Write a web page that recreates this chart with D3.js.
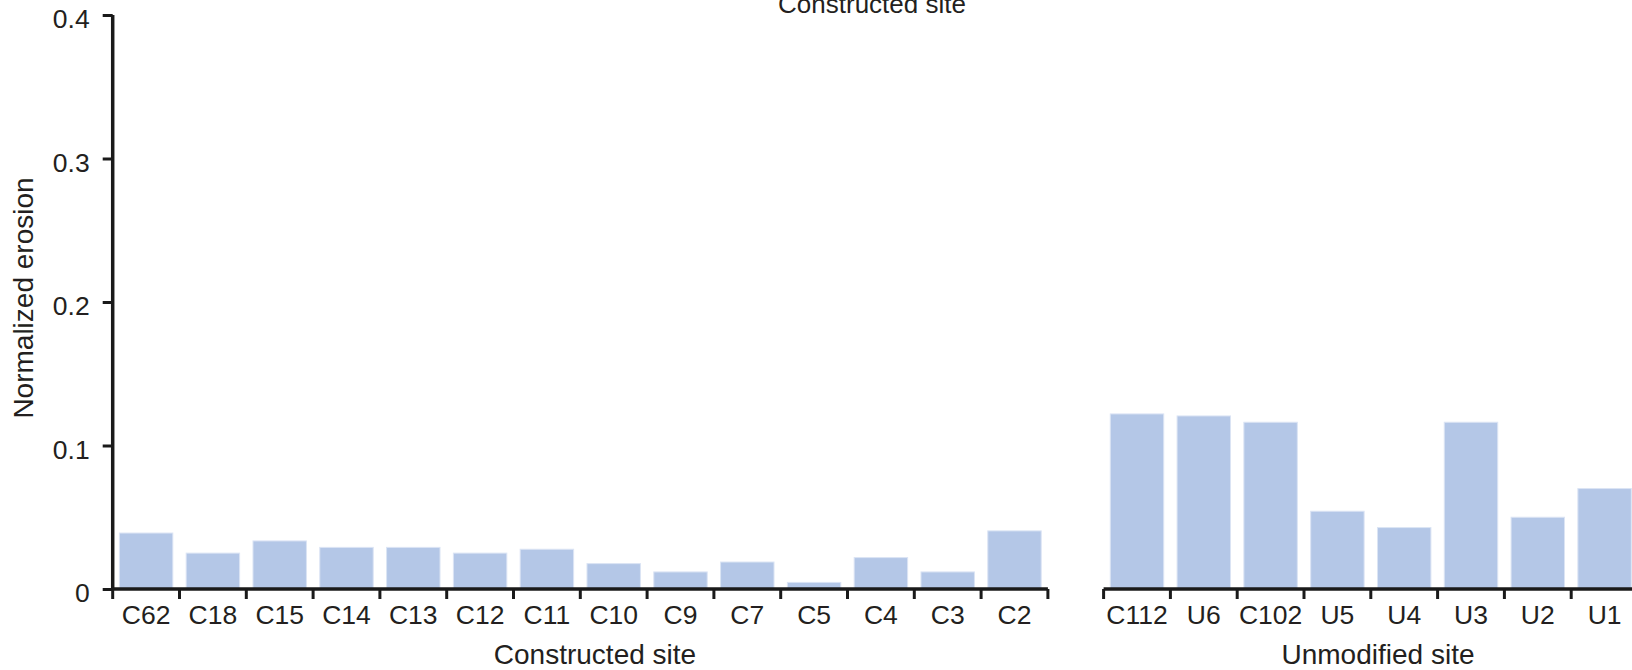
<!DOCTYPE html>
<html>
<head>
<meta charset="utf-8">
<script src="https://cdn.jsdelivr.net/npm/d3@7"></script>
<style>
  html, body { margin: 0; padding: 0; background: #fff; }
  svg { display: block; font-family: "Liberation Sans", Arial, Helvetica, sans-serif; }
</style>
</head>
<body>
<svg id="chart" width="1632" height="670"></svg>
<script>
// Normalized erosion per site, two groups sharing one y scale
const constructedSites = ["C62", "C18", "C15", "C14", "C13", "C12", "C11", "C10", "C9", "C7", "C5", "C4", "C3", "C2"];
const constructedErosion = [0.039, 0.025, 0.0335, 0.029, 0.029, 0.025, 0.0277, 0.0177, 0.0119, 0.0188, 0.0046, 0.0219, 0.0119, 0.0405];

const unmodifiedSites = ["C112", "U6", "C102", "U5", "U4", "U3", "U2", "U1"];
const unmodifiedErosion = [0.122, 0.1206, 0.1162, 0.0542, 0.0428, 0.1162, 0.05, 0.07];

const yTicks = [0, 0.1, 0.2, 0.3, 0.4];

const svg = d3.select("#chart");
const textColor = "#231f20";
const barFill = "#b4c7e7";

const y = d3.scaleLinear().domain([0, 0.4]).range([589, 15]);

const step = 66.8;
const leftX0 = 112.7;
const rightX0 = 1103.6;

function panel(sites, values, x0, title, titleX) {
  const x = d3.scaleBand()
    .domain(sites)
    .range([x0, x0 + step * sites.length])
    .paddingInner(0.2)
    .paddingOuter(0.1);

  const g = svg.append("g");

  g.selectAll("rect.bar")
    .data(sites.map((s, i) => ({ site: s, v: values[i] })))
    .join("rect")
    .attr("class", "bar")
    .attr("x", d => x(d.site))
    .attr("width", x.bandwidth())
    .attr("y", d => y(d.v))
    .attr("height", d => y(0) - y(d.v))
    .attr("fill", barFill)
    .attr("stroke", "#dbe4f4")
    .attr("stroke-width", 1);

  // baseline with ticks at band boundaries
  const [r0, r1] = x.range();
  g.append("line")
    .attr("x1", r0).attr("x2", r1)
    .attr("y1", y(0)).attr("y2", y(0))
    .attr("stroke", "#1a1a1a").attr("stroke-width", 3.5);
  const edges = d3.range(sites.length + 1).map(i => r0 + i * x.step());
  g.selectAll("line.edge")
    .data(edges)
    .join("line")
    .attr("class", "edge")
    .attr("x1", d => d).attr("x2", d => d)
    .attr("y1", y(0)).attr("y2", y(0) + 10)
    .attr("stroke", "#1a1a1a").attr("stroke-width", 3);

  // category labels
  const ax = g.append("g")
    .attr("transform", `translate(0,${y(0)})`)
    .call(d3.axisBottom(x).tickSize(0).tickPadding(0));
  ax.select(".domain").remove();
  ax.selectAll("text")
    .attr("y", 35)
    .attr("dy", 0)
    .attr("fill", textColor)
    .style("font-size", "26.5px")
    .style("font-family", "'Liberation Sans', Arial, sans-serif");

  svg.append("text")
    .attr("x", titleX).attr("y", 664)
    .attr("text-anchor", "middle")
    .attr("fill", textColor)
    .style("font-size", "28px")
    .text(title);
}

panel(constructedSites, constructedErosion, leftX0, "Constructed site", 595);
panel(unmodifiedSites, unmodifiedErosion, rightX0, "Unmodified site", 1378);

// y axis
const yAxis = svg.append("g")
  .attr("transform", `translate(${leftX0},0)`)
  .call(d3.axisLeft(y).tickValues(yTicks).tickSize(10).tickPadding(13)
    .tickFormat(d => d === 0 ? "0" : d3.format(".1f")(d)));
yAxis.select(".domain")
  .attr("d", `M0,${y(0.4)}V${y(0)}`)
  .attr("stroke", "#1a1a1a").attr("stroke-width", 3.5);
yAxis.selectAll(".tick line").attr("stroke", "#1a1a1a").attr("stroke-width", 3);
yAxis.selectAll(".tick text")
  .attr("dy", "0.48em")
  .attr("fill", textColor)
  .style("font-size", "26.5px")
  .style("font-family", "'Liberation Sans', Arial, sans-serif");

svg.append("text")
  .attr("transform", `translate(33,298) rotate(-90)`)
  .attr("text-anchor", "middle")
  .attr("fill", textColor)
  .style("font-size", "28px")
  .text("Normalized erosion");

// heading at the top edge
svg.append("text")
  .attr("x", 872).attr("y", 13)
  .attr("text-anchor", "middle")
  .attr("fill", textColor)
  .style("font-size", "26px")
  .text("Constructed site");
</script>
</body>
</html>
